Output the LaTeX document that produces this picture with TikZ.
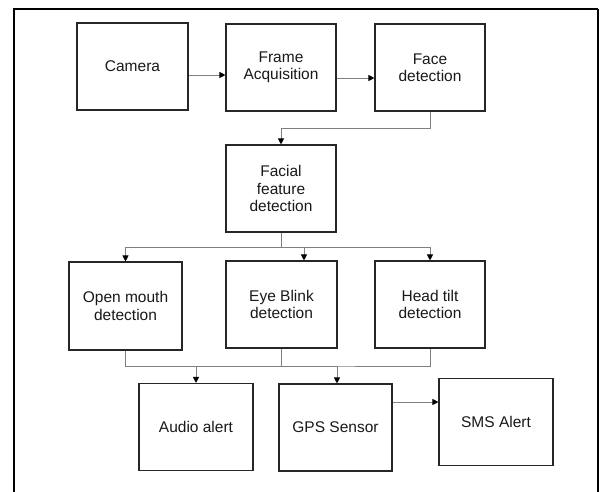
\documentclass[tikz,border=0pt]{standalone}
\usepackage{fontspec}
\setmainfont{Liberation Sans}
\usetikzlibrary{arrows.meta}
\begin{document}
\begin{tikzpicture}[x=1pt,y=-1pt,
  box/.style={draw=black!85,line width=1.1pt,minimum width=110pt,minimum height=87pt,
    align=center,inner sep=0pt,font=\fontsize{15.5}{17.5}\selectfont,text=black!90},
  conn/.style={draw=black!50,line width=0.9pt},
  arr/.style={conn,-{Triangle[color=black,length=6pt,width=6pt]}}]
\useasboundingbox (0,0) rectangle (600,491);
\fill[white] (0,0) rectangle (600,491);
% frame
\draw[line width=2.8pt] (14,495) -- (14,9) -- (598,9);
\draw[line width=1.8pt] (598,9) -- (598,495);
% nodes
\node[box,minimum width=111pt] (cam) at (132.5,66.5) {Camera};
\node[box] (fa) at (281,67.5) {Frame\\Acquisition};
\node[box] (fd) at (430,67.5) {Face\\detection};
\node[box] (ff) at (281,188.5) {Facial\\feature\\detection};
\node[box,minimum width=113pt,minimum height=88pt] (om) at (125.5,306) {Open mouth\\detection};
\node[box,minimum width=111pt] (eb) at (281.5,304.5) {Eye Blink\\detection};
\node[box] (ht) at (430,304.5) {Head tilt\\detection};
\node[box,minimum width=114pt] (aa) at (196,427) {Audio alert};
\node[box,minimum width=113pt] (gps) at (335.5,427.5) {GPS Sensor};
\node[box,minimum width=114pt] (sms) at (496,422) {SMS Alert};
% coordinates
\coordinate (j1) at (281,247);
\coordinate (j2) at (281.5,366);
% connectors
\draw[arr] ([yshift=-8.5pt]cam.east) -- ([yshift=-7.5pt]fa.west);
\draw[arr] ([yshift=-10.5pt]fa.east) -- ([yshift=-10.5pt]fd.west);
\draw[arr] (fd.south) -- ++(0,17) -| (ff.north);
\draw[conn] (ff.south) -- (j1);
\draw[arr] (j1) -| (om.north);
\draw[arr] (j1) -| ([xshift=22.5pt]eb.north);
\draw[arr] (j1) -| (ht.north);
\draw[conn] (om.south) |- (j2) -| (ht.south);
\draw[conn] (eb.south) -- (j2);
\draw[arr] (j2) -| (aa.north);
\draw[arr] (j2) -| ([xshift=1.5pt]gps.north);
\draw[arr] ([yshift=25.5pt]gps.east) -- ([yshift=20pt]sms.west);
\end{tikzpicture}
\end{document}
